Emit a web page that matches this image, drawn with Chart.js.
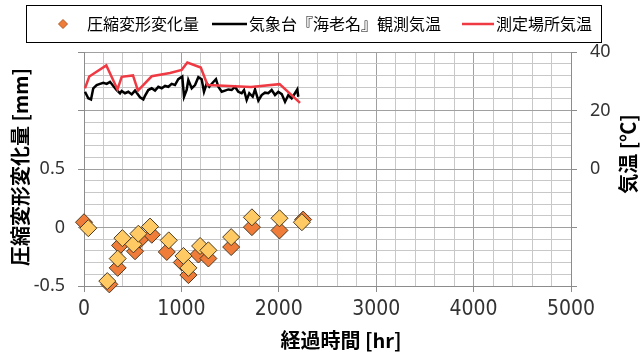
<!DOCTYPE html>
<html>
<head>
<meta charset="utf-8">
<script src="https://cdn.jsdelivr.net/npm/chart.js@4.4.1/dist/chart.umd.min.js"></script>
<style>
  html, body { margin: 0; padding: 0; background: #ffffff; }
  #wrap { width: 640px; height: 354px; position: relative; }
</style>
</head>
<body>
<div id="wrap"><canvas id="chart" width="640" height="354"></canvas></div>
<script>
// ---- data ----
// compression change, first measurement set (orange)
const deformHoursA = [0, 260, 346, 370, 524, 576, 696, 850, 1004, 1072, 1175, 1277, 1511, 1724, 2007, 2250];
const deformA = [0.045, -0.486, -0.345, -0.153, -0.203, -0.104, -0.062, -0.209, -0.299, -0.407, -0.231, -0.265, -0.167, 0.003, -0.025, 0.068];
// compression change, second measurement set (yellow)
const deformHoursB = [44, 239, 346, 394, 507, 558, 678, 870, 1021, 1072, 1192, 1277, 1511, 1724, 2007, 2237];
const deformB = [-0.006, -0.458, -0.266, -0.091, -0.144, -0.053, 0.008, -0.110, -0.243, -0.345, -0.158, -0.195, -0.082, 0.087, 0.079, 0.045];
// weather station (Ebina) air temperature
const obsHours = [10, 44, 72, 95, 130, 164, 198, 233, 267, 301, 336, 370, 387, 421, 455, 490, 524, 575, 609, 626,
  660, 695, 729, 763, 798, 832, 866, 900, 934, 968, 1009, 1027, 1054, 1071, 1106, 1140, 1174, 1208, 1232, 1260,
  1286, 1321, 1355, 1379, 1414, 1448, 1482, 1516, 1550, 1584, 1619, 1643, 1670, 1697, 1732, 1756, 1790, 1824, 1858, 1892,
  1927, 1961, 1995, 2030, 2064, 2098, 2132, 2166, 2190, 2200];
const obsTemp = [26.4, 24.2, 23.8, 27.6, 28.7, 29.1, 29.5, 29.1, 29.8, 28.4, 27.0, 25.9, 26.7, 25.9, 26.4, 25.5, 26.8, 24.5, 23.8, 25.0,
  27.0, 27.6, 26.8, 28.1, 27.6, 28.4, 28.1, 29.1, 28.7, 30.7, 31.6, 24.7, 27.0, 30.4, 27.6, 28.7, 31.4, 30.7, 26.4, 29.3,
  28.1, 29.5, 30.7, 28.1, 26.4, 26.8, 27.2, 27.0, 28.1, 26.4, 25.9, 27.0, 23.6, 25.9, 24.7, 27.2, 23.4, 25.3, 26.1, 25.9,
  27.0, 25.3, 26.4, 25.6, 23.0, 25.3, 24.2, 25.9, 27.2, 24.7];
// air temperature at the test site
const siteHours = [10, 54, 229, 344, 387, 503, 554, 695, 883, 1003, 1061, 1199, 1268, 1715, 2008, 2218];
const siteTemp = [27.6, 31.6, 35.4, 27.2, 31.5, 32.0, 26.8, 31.7, 32.8, 33.9, 36.4, 34.7, 28.7, 28.0, 29.0, 22.6];

// ---- labels ----
const xTickLabels = [0, 1000, 2000, 3000, 4000, 5000];
const leftTickLabels = [-0.5, 0, 0.5];
const rightTickLabels = [0, 20, 40];
const seriesNames = ['圧縮変形変化量', '気象台『海老名』観測気温', '測定場所気温'];
const xTitle = '経過時間 [hr]';
const leftTitle = '圧縮変形変化量 [mm]';
const rightTitle = '気温 [℃]';

// ---- styling ----
const ORANGE = '#f07c3a';
const YELLOW = '#ffc964';
const MARK_EDGE = '#4a3a22';
const RED = '#ef3a44';
const GRID_MAJOR = '#a0a0a0';
const GRID_MINOR = '#c8c8c8';
const AXIS = '#8c8c8c';
const TICK_TEXT = '#333333';
const JP = '"Noto Sans CJK JP", "Noto Sans", sans-serif';

const pts = (xs, ys) => xs.map((x, i) => ({ x: x, y: ys[i] }));
const isMajor = (v, step) => Math.abs(Math.round(v / step) * step - v) < 1e-6;

// legend box and axis titles
const framePlugin = {
  id: 'frame',
  afterDraw(chart) {
    const ctx = chart.ctx;
    ctx.save();
    // legend
    ctx.strokeStyle = '#000000';
    ctx.lineWidth = 1;
    ctx.strokeRect(26.5, 5.5, 575, 37);
    const cy = 24;
    ctx.font = '16px ' + JP;
    ctx.fillStyle = '#000000';
    ctx.textBaseline = 'middle';
    ctx.textAlign = 'left';
    // diamond marker
    ctx.beginPath();
    ctx.moveTo(63, cy - 4.5); ctx.lineTo(67.5, cy); ctx.lineTo(63, cy + 4.5); ctx.lineTo(58.5, cy); ctx.closePath();
    ctx.fillStyle = ORANGE; ctx.fill();
    ctx.strokeStyle = '#b05a25'; ctx.stroke();
    ctx.fillStyle = '#000000';
    ctx.fillText(seriesNames[0], 87, cy);
    ctx.lineWidth = 2.5;
    ctx.strokeStyle = '#000000';
    ctx.beginPath(); ctx.moveTo(212, cy); ctx.lineTo(247, cy); ctx.stroke();
    ctx.fillText(seriesNames[1], 249, cy);
    ctx.strokeStyle = RED;
    ctx.beginPath(); ctx.moveTo(462, cy); ctx.lineTo(494, cy); ctx.stroke();
    ctx.fillText(seriesNames[2], 496, cy);

    // axis titles
    ctx.font = 'bold 20px ' + JP;
    ctx.textAlign = 'center';
    ctx.fillText(xTitle, 341, 340);
    ctx.save();
    ctx.translate(20, 167);
    ctx.rotate(-Math.PI / 2);
    ctx.fillText(leftTitle, 0, 0);
    ctx.restore();
    ctx.save();
    ctx.translate(628, 154);
    ctx.rotate(-Math.PI / 2);
    ctx.fillText(rightTitle, 0, 0);
    ctx.restore();
    ctx.restore();
  }
};

new Chart(document.getElementById('chart'), {
  type: 'scatter',
  data: {
    datasets: [
      {
        label: seriesNames[0],
        data: pts(deformHoursA, deformA),
        yAxisID: 'y',
        pointStyle: 'rectRot',
        pointRadius: 8.5,
        pointBackgroundColor: ORANGE,
        pointBorderColor: MARK_EDGE,
        pointBorderWidth: 1,
        clip: false,
        order: 1
      },
      {
        label: seriesNames[0],
        data: pts(deformHoursB, deformB),
        yAxisID: 'y',
        pointStyle: 'rectRot',
        pointRadius: 8.5,
        pointBackgroundColor: YELLOW,
        pointBorderColor: MARK_EDGE,
        pointBorderWidth: 1,
        clip: false,
        order: 0
      },
      {
        label: seriesNames[1],
        data: pts(obsHours, obsTemp),
        yAxisID: 'y1',
        showLine: true,
        borderColor: '#000000',
        borderWidth: 2.5,
        pointRadius: 0,
        tension: 0,
        order: 3
      },
      {
        label: seriesNames[2],
        data: pts(siteHours, siteTemp),
        yAxisID: 'y1',
        showLine: true,
        borderColor: RED,
        borderWidth: 2.5,
        pointRadius: 0,
        tension: 0,
        order: 2
      }
    ]
  },
  plugins: [framePlugin],
  options: {
    responsive: false,
    animation: false,
    events: [],
    devicePixelRatio: 1,
    layout: { padding: { top: 52, left: 0, right: 0, bottom: 0 } },
    plugins: { legend: { display: false }, tooltip: { enabled: false } },
    scales: {
      x: {
        type: 'linear',
        min: 0, max: 5000,
        afterFit(s) { s.height = 68; },
        border: { color: AXIS, width: 1 },
        grid: {
          color: c => (c.tick && isMajor(c.tick.value, 1000)) ? GRID_MAJOR : GRID_MINOR,
          tickColor: c => (c.tick && isMajor(c.tick.value, 1000)) ? AXIS : 'rgba(0,0,0,0)',
          tickLength: 6,
          lineWidth: 1
        },
        ticks: {
          stepSize: 200,
          autoSkip: false,
          maxRotation: 0,
          padding: 5,
          color: TICK_TEXT,
          font: { family: '"Liberation Sans Narrow", "DejaVu Sans Condensed", sans-serif', size: 21 },
          callback: v => xTickLabels.includes(Math.round(v)) ? String(Math.round(v)) : ''
        }
      },
      y: {
        type: 'linear',
        position: 'left',
        min: -0.5, max: 1.5,
        afterFit(s) { s.width = 84; },
        border: { color: AXIS, width: 1 },
        grid: {
          color: c => (c.tick && isMajor(c.tick.value, 0.5)) ? GRID_MAJOR : GRID_MINOR,
          tickColor: c => (c.tick && isMajor(c.tick.value, 0.5)) ? AXIS : 'rgba(0,0,0,0)',
          tickLength: 6,
          lineWidth: 1
        },
        ticks: {
          stepSize: 0.1,
          autoSkip: false,
          padding: 13,
          color: TICK_TEXT,
          font: { family: '"Noto Sans", "Open Sans", sans-serif', size: 18 },
          callback: v => {
            const r = Math.round(v * 10) / 10;
            return leftTickLabels.includes(r) ? String(r) : '';
          }
        }
      },
      y1: {
        type: 'linear',
        position: 'right',
        min: -40, max: 40,
        afterFit(s) { s.width = 69; },
        border: { color: AXIS, width: 1 },
        grid: {
          drawOnChartArea: false,
          tickColor: c => (c.tick && isMajor(c.tick.value, 20)) ? AXIS : 'rgba(0,0,0,0)',
          tickLength: 6
        },
        ticks: {
          stepSize: 4,
          autoSkip: false,
          padding: 13,
          color: TICK_TEXT,
          font: { family: '"Noto Sans", "Open Sans", sans-serif', size: 18 },
          callback: v => rightTickLabels.includes(Math.round(v)) ? String(Math.round(v)) : ''
        }
      }
    }
  }
});
</script>
</body>
</html>
